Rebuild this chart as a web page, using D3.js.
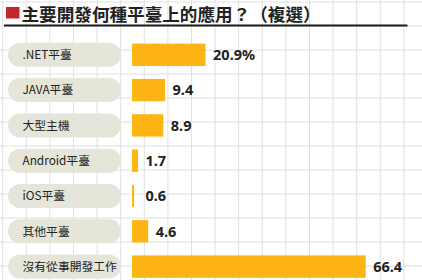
<!DOCTYPE html>
<html>
<head>
<meta charset="utf-8">
<script src="https://cdn.jsdelivr.net/npm/d3@7"></script>
<style>
  html, body { margin: 0; padding: 0; background: #fff; }
  svg { display: block; }
</style>
</head>
<body>
<svg id="chart"></svg>
<script>
// 資料
const titleText = "主要開發何種平臺上的應用？（複選）";
const categories = [".NET平臺", "JAVA平臺", "大型主機", "Android平臺", "iOS平臺", "其他平臺", "沒有從事開發工作"];
const values = [20.9, 9.4, 8.9, 1.7, 0.6, 4.6, 66.4];
const valueLabels = ["20.9%", "9.4", "8.9", "1.7", "0.6", "4.6", "66.4"];

const width = 422, height = 280;

const svg = d3.select("#chart")
  .attr("width", width)
  .attr("height", height)
  .attr("viewBox", [0, 0, width, height]);

// 背景格線
const grid = svg.append("g").attr("stroke", "#e0e0e0").attr("stroke-width", 1);
grid.selectAll("line.v")
  .data(d3.range(2.7, width, 23.6))
  .join("line")
  .attr("x1", d => d).attr("x2", d => d)
  .attr("y1", 0).attr("y2", height);
grid.selectAll("line.h")
  .data(d3.range(2, height, 24))
  .join("line")
  .attr("x1", 0).attr("x2", width)
  .attr("y1", d => d).attr("y2", d => d);

// 標題
svg.append("rect")
  .attr("x", 6).attr("y", 7)
  .attr("width", 13.5).attr("height", 11.5)
  .attr("fill", "#c1272d");

svg.append("text")
  .attr("x", 21.5).attr("y", 20.5)
  .attr("fill", "#222")
  .style("font", "bold 17.6px 'Noto Sans CJK TC', sans-serif")
  .text(titleText);

svg.append("line")
  .attr("x1", 4).attr("x2", 407.5)
  .attr("y1", 25.5).attr("y2", 25.5)
  .attr("stroke", "#1a1a1a")
  .attr("stroke-width", 2.2);

// 比例尺
const x = d3.scaleLinear([0, 66.4], [132, 365.7]);
const y = d3.scalePoint(categories, [54.8, 266.6]);
const barH = 22.4;

const rows = svg.append("g")
  .selectAll("g")
  .data(categories.map((c, i) => ({ cat: c, value: values[i], label: valueLabels[i] })))
  .join("g")
  .attr("transform", d => `translate(0,${y(d.cat)})`);

// 類別標籤底框
rows.append("rect")
  .attr("x", 8).attr("y", -12)
  .attr("width", 113).attr("height", 24)
  .attr("rx", 12)
  .attr("fill", "#e5e5da");

rows.append("text")
  .attr("x", 22.5).attr("dy", "0.36em")
  .attr("fill", "#222")
  .style("font", "11.8px 'Noto Sans CJK TC', sans-serif")
  .text(d => d.cat);

// 長條
rows.append("rect")
  .attr("x", x(0))
  .attr("y", -barH / 2)
  .attr("width", d => x(d.value) - x(0))
  .attr("height", barH)
  .attr("fill", "#fdb515");

rows.append("text")
  .attr("x", d => Math.max(x(d.value), 138) + 7.5)
  .attr("dy", "0.36em")
  .attr("fill", "#222")
  .style("font", "bold 14.5px 'Noto Sans', sans-serif")
  .text(d => d.label);
</script>
</body>
</html>
